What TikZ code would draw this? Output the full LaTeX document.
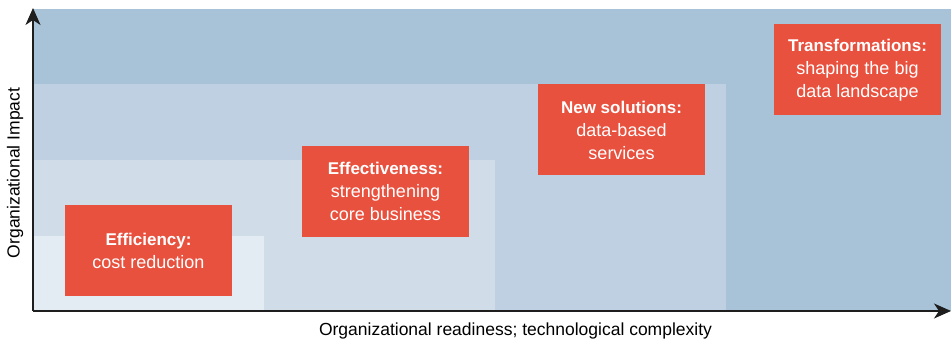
\documentclass[tikz,border=0pt]{standalone}
\usepackage{fontspec}
\setmainfont{Liberation Sans}
\usetikzlibrary{arrows.meta}
\definecolor{lay1}{HTML}{A8C2D7}
\definecolor{lay2}{HTML}{BED0E1}
\definecolor{lay3}{HTML}{D0DDE9}
\definecolor{lay4}{HTML}{E3EBF3}
\definecolor{boxred}{HTML}{E9513F}
\definecolor{axisc}{HTML}{1E1E1E}
\newcommand{\stagetitle}[1]{{\fontsize{17}{23}\selectfont\bfseries #1}}
\begin{document}
\begin{tikzpicture}[x=1pt,y=-1pt,
  stagebox/.style={fill=boxred,draw=none,minimum width=167pt,minimum height=91pt,
    inner sep=0pt,align=center,text=white,font=\fontsize{18}{23}\selectfont},
  axislabel/.style={font=\fontsize{17.5}{20}\selectfont,text=black},
  axisline/.style={draw=axisc,line width=1.3pt,-{Stealth[length=17pt,width=15pt,inset=5pt]}}]
\useasboundingbox (0,0) rectangle (951,344);
\fill[lay1] (33,9) rectangle (951,311);
\fill[lay2] (33,84) rectangle (726,311);
\fill[lay3] (33,160) rectangle (495,311);
\fill[lay4] (33,236) rectangle (264,311);
\node[stagebox] (eff) at (148.5,251) {\stagetitle{Efficiency:}\\cost reduction};
\node[stagebox] (effv) at (385.5,191.5) {\stagetitle{Effectiveness:}\\strengthening\\core business};
\node[stagebox] (news) at (621.5,130) {\stagetitle{New solutions:}\\data-based\\services};
\node[stagebox] (trans) at (857.5,70) {\stagetitle{Transformations:}\\shaping the big\\data landscape};
\coordinate (origin) at (33,311);
\coordinate (ytip) at (33,8);
\coordinate (xtip) at (951,311);
\draw[axisline] (origin) -- (ytip);
\draw[axisline] (origin) -- (xtip);
\node[axislabel,rotate=90] (ylab) at (15,173) {Organizational Impact};
\node[axislabel] (xlab) at (515.5,331) {Organizational readiness; technological complexity};
\end{tikzpicture}
\end{document}
